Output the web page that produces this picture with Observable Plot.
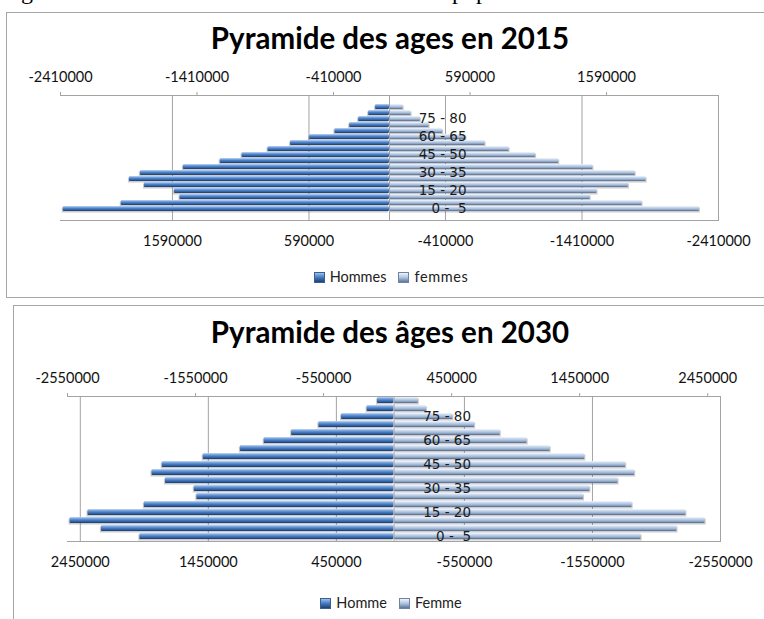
<!DOCTYPE html>
<html>
<head>
<meta charset="utf-8">
<script src="https://cdn.jsdelivr.net/npm/d3@7"></script>
<script src="https://cdn.jsdelivr.net/npm/@observablehq/plot@0.6"></script>
<style>
  html, body { margin: 0; padding: 0; background: #fff; }
  body { width: 764px; height: 619px; overflow: hidden; position: relative; font-family: Lato, sans-serif; }
  .box { position: absolute; border: 1px solid #a6a6a6; background: #fff; }
  .title { position: absolute; left: 0; width: 780px; text-align: center; font-family: Lato, sans-serif; font-weight: bold; font-size: 29.5px; line-height: 1; color: #000; white-space: nowrap; }
  .chart { position: absolute; left: 0; }
  .legend { position: absolute; left: 0; width: 782px; text-align: center; font-size: 14.5px; line-height: 16px; color: #222; white-space: nowrap; }
  .legend span.item { display: inline-block; margin: 0 6px; }
  .sw { display: inline-block; width: 9px; height: 9px; margin-right: 5px; vertical-align: -1px; border: 1px solid #3b5f8f; }
  .sw.m { background: linear-gradient(#9cc0ee, #4a7fc6 45%, #1f3f70); }
  .sw.f { background: linear-gradient(#eef3fa, #aec3de 50%, #5e7799); border-color: #6d84a4; }
  .doc { position: absolute; top: -21px; font-family: "Liberation Serif", serif; font-size: 24px; line-height: 24px; color: #000; white-space: nowrap; }
</style>
</head>
<body>
<div class="doc" style="left:1px">Figure</div>
<div class="doc" style="left:452px">population</div>

<svg width="0" height="0" style="position:absolute">
  <defs>
    <linearGradient id="gradHommes" x1="0" y1="0" x2="0" y2="1">
      <stop offset="0" stop-color="#c4dbf7"/>
      <stop offset="0.22" stop-color="#80aae2"/>
      <stop offset="0.5" stop-color="#4a7fc6"/>
      <stop offset="0.78" stop-color="#2f5f9f"/>
      <stop offset="1" stop-color="#1a355e"/>
    </linearGradient>
    <linearGradient id="gradFemmes" x1="0" y1="0" x2="0" y2="1">
      <stop offset="0" stop-color="#f4f8fc"/>
      <stop offset="0.25" stop-color="#cddbee"/>
      <stop offset="0.55" stop-color="#a9bfdc"/>
      <stop offset="0.8" stop-color="#8199bb"/>
      <stop offset="1" stop-color="#4c6384"/>
    </linearGradient>
  </defs>
</svg>

<div class="box" style="left:6px; top:12px; width:780px; height:284px;"></div>
<div class="box" style="left:13px; top:305px; width:780px; height:340px;"></div>

<div class="title" style="top:23px">Pyramide des ages en 2015</div>
<div class="title" style="top:317px">Pyramide des âges en 2030</div>

<div id="c2015" class="chart" style="top:50px"></div>
<div id="c2030" class="chart" style="top:350px"></div>

<div class="legend" style="top:269px"><span class="item"><span class="sw m"></span>Hommes</span><span class="item" style="letter-spacing:0.6px"><span class="sw f"></span>femmes</span></div>
<div class="legend" style="top:595px"><span class="item"><span class="sw m"></span>Homme</span><span class="item"><span class="sw f"></span>Femme</span></div>

<script>
// ---- Data (age groups from youngest to oldest) ----
const ages = ["0 - 5","5 - 10","10 - 15","15 - 20","20 - 25","25 - 30","30 - 35","35 - 40","40 - 45",
              "45 - 50","50 - 55","55 - 60","60 - 65","65 - 70","70 - 75","75 - 80","80 - 85","85 +"];
// tick labels shown on the category axis (every third group)
const ageTickLabels = ["0 -\u00a0 5", "15 - 20", "30 - 35", "45 - 50", "60 - 65", "75 - 80"];

const hommes2015 = [2390000,1965000,1535000,1575000,1795000,1905000,1825000,1510000,1240000,
                    1080000,890000,725000,585000,400000,292000,226000,153000,102000];
const femmes2015 = [2270000,1850000,1470000,1520000,1750000,1880000,1800000,1490000,1240000,
                    1070000,876000,700000,560000,390000,290000,226000,158000,100000];

const hommes2030 = [1985000,2285000,2530000,2390000,1950000,1540000,1560000,1785000,1890000,
                    1810000,1490000,1200000,1014000,800000,587000,410000,210000,129000];
const femmes2030 = [1930000,2210000,2430000,2280000,1860000,1480000,1530000,1750000,1880000,
                    1810000,1490000,1220000,1040000,830000,630000,460000,254000,190000];

// value axis tick labels (top axis normal, bottom axis reversed)
const topTicks2015 = [-2410000,-1410000,-410000,590000,1590000];
const bottomTicks2015 = [1590000,590000,-410000,-1410000,-2410000];
const topTicks2030 = [-2550000,-1550000,-550000,450000,1450000,2450000];
const bottomTicks2030 = [2450000,1450000,450000,-550000,-1550000,-2550000];
const xMax2015 = 2410000;
const xMax2030 = 2550000;

function pyramid({hommes, femmes, xMax, topTicks, bottomTicks, height, marginTop, marginBottom, marginLeft, marginRight}) {
  const data = ages.map((age, i) => ({age, hommes: hommes[i], femmes: femmes[i]}));
  const labelled = ages.map((age, i) => ({age, i})).filter(d => d.i % 3 === 0);
  const grey = "#a3a3a3";
  return Plot.plot({
    width: 764,
    height, marginTop, marginBottom, marginLeft, marginRight,
    x: {domain: [-xMax, xMax]},
    y: {domain: ages.slice().reverse(), paddingInner: 0.24, paddingOuter: 0.12, axis: null},
    style: {fontFamily: "Lato, sans-serif", fontSize: "14.5px", color: "#111", background: "transparent", overflow: "visible"},
    marks: [
      Plot.gridX(bottomTicks.map(v => -v), {stroke: grey, strokeOpacity: 1, strokeWidth: 1}),
      Plot.frame({anchor: "top", stroke: grey}),
      Plot.frame({anchor: "bottom", stroke: grey}),
      Plot.axisX(topTicks, {anchor: "top", tickSize: 4, tickPadding: 10, stroke: grey, fill: "#111",
                            tickFormat: d => String(d), label: null}),
      Plot.axisX(bottomTicks.map(v => -v), {anchor: "bottom", tickSize: 0, tickPadding: 15, fill: "#111",
                            tickFormat: d => String(-d), label: null}),
      // soft drop shadows of the 3-D bars
      Plot.barX(data, {y: "age", x: d => -d.hommes, fill: "#6b6b6b", fillOpacity: 0.35, dy: 1.5, dx: -1}),
      Plot.barX(data, {y: "age", x: d => d.femmes, fill: "#6b6b6b", fillOpacity: 0.35, dy: 1.5, dx: 1}),
      Plot.barX(data, {y: "age", x: d => -d.hommes, fill: "url(#gradHommes)", rx: 1}),
      Plot.barX(data, {y: "age", x: d => d.femmes, fill: "url(#gradFemmes)", rx: 1}),
      Plot.ruleX([0], {stroke: grey}),
      Plot.text(labelled, {x: 0, y: "age", text: d => ageTickLabels[d.i / 3], dx: 77, textAnchor: "end",
                           fontFamily: "DejaVu Sans, sans-serif", fontSize: 13.5, fill: "#1a1a1a"})
    ]
  });
}

document.getElementById("c2015").append(pyramid({
  hommes: hommes2015, femmes: femmes2015, xMax: xMax2015,
  topTicks: topTicks2015, bottomTicks: bottomTicks2015,
  height: 210, marginTop: 45, marginBottom: 40, marginLeft: 60, marginRight: 46
}));
document.getElementById("c2030").append(pyramid({
  hommes: hommes2030, femmes: femmes2030, xMax: xMax2030,
  topTicks: topTicks2030, bottomTicks: bottomTicks2030,
  height: 231, marginTop: 46, marginBottom: 40, marginLeft: 67, marginRight: 44
}));
</script>
</body>
</html>
